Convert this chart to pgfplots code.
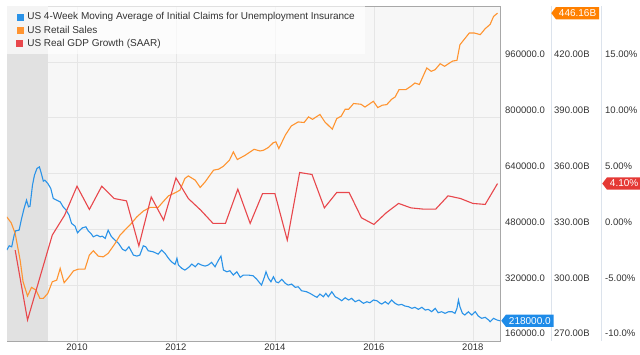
\documentclass[border=0pt]{standalone}
\usepackage{fontspec}
\setmainfont{Liberation Sans}
\usepackage{pgfplots}
\pgfplotsset{compat=1.18}
\usepackage{pgfplotstable}
\usetikzlibrary{shapes.symbols}

\definecolor{bgcol}{HTML}{F7F7F7}
\definecolor{gridcol}{HTML}{E6E6E6}
\definecolor{recol}{HTML}{E1E1E1}
\definecolor{bordercol}{HTML}{A8A8A8}
\definecolor{sepcol}{HTML}{DCE3EC}
\definecolor{textcol}{HTML}{333333}
\definecolor{cblue}{HTML}{2A93E8}
\definecolor{corange}{HTML}{FF9430}
\definecolor{cred}{HTML}{E8474C}
\definecolor{tagblue}{HTML}{1E8BE8}
\definecolor{tagorange}{HTML}{FF8000}
\definecolor{tagred}{HTML}{E53935}

\pgfplotstableread{
x y
2008.58 420500
2008.63 432800
2008.68 429900
2008.73 463400
2008.76 475700
2008.83 477700
2008.88 511200
2008.93 539800
2008.98 563600
2009.02 544400
2009.05 546400
2009.10 606500
2009.14 635100
2009.19 654300
2009.24 658900
2009.27 644600
2009.32 618000
2009.35 620800
2009.41 611400
2009.47 597100
2009.52 568500
2009.59 563600
2009.66 558700
2009.72 544400
2009.78 535000
2009.84 520600
2009.89 496900
2009.96 489200
2010.01 470000
2010.06 477700
2010.11 484300
2010.18 487200
2010.23 474900
2010.28 468300
2010.33 458500
2010.40 463400
2010.47 458500
2010.51 460500
2010.57 454000
2010.63 477700
2010.69 460500
2010.73 454000
2010.84 439600
2010.92 422500
2010.98 418500
2011.05 429900
2011.14 406200
2011.21 403300
2011.27 406200
2011.34 432800
2011.39 429900
2011.44 418500
2011.54 415600
2011.64 409000
2011.71 420500
2011.78 411000
2011.85 396700
2011.91 387000
2011.98 379500
2012.02 396700
2012.05 377500
2012.12 368100
2012.18 363200
2012.23 368100
2012.27 372700
2012.32 380400
2012.39 372700
2012.45 382400
2012.52 377500
2012.59 374700
2012.65 377500
2012.72 385300
2012.79 372700
2012.86 391800
2012.91 403300
2012.96 363200
2013.03 358400
2013.09 361200
2013.16 348900
2013.23 358400
2013.30 342300
2013.36 348900
2013.46 348900
2013.56 346900
2013.63 337500
2013.70 325200
2013.73 320300
2013.79 344000
2013.82 358400
2013.87 339500
2013.92 329700
2013.97 344000
2014.02 329700
2014.07 326900
2014.14 336600
2014.21 325200
2014.27 320300
2014.34 323200
2014.41 313700
2014.47 315400
2014.54 304000
2014.64 301100
2014.71 296500
2014.80 288800
2014.85 285100
2014.91 294500
2014.98 286800
2015.03 296500
2015.08 286800
2015.15 301100
2015.22 286800
2015.28 282200
2015.35 275400
2015.42 283900
2015.49 277400
2015.55 282200
2015.62 272500
2015.70 277400
2015.79 267900
2015.86 272500
2015.92 269600
2015.99 277400
2016.06 275400
2016.13 267900
2016.16 265900
2016.23 272500
2016.29 265900
2016.36 277400
2016.43 267900
2016.50 263000
2016.56 265000
2016.63 260200
2016.70 258200
2016.77 253600
2016.83 256500
2016.90 250700
2016.97 256500
2017.04 248700
2017.10 250700
2017.17 243900
2017.24 253600
2017.30 241000
2017.37 243900
2017.44 239300
2017.51 243900
2017.58 243900
2017.64 239300
2017.68 253600
2017.71 277400
2017.74 258200
2017.79 239300
2017.84 234400
2017.91 243900
2017.98 234400
2018.05 243900
2018.11 231600
2018.18 225000
2018.25 227800
2018.32 220100
2018.35 215200
2018.42 225000
2018.49 220100
2018.55 218000
}\claims

\pgfplotstableread{
x y
2008.58 336.7
2008.67 333.5
2008.75 327.8
2008.85 313.5
2008.91 301.8
2009.00 294.2
2009.08 298.8
2009.17 297.4
2009.25 292.9
2009.32 292.9
2009.41 295.6
2009.50 301.8
2009.59 302.7
2009.66 309.0
2009.74 301.3
2009.84 304.5
2009.93 307.7
2010.03 308.6
2010.16 308.6
2010.25 316.2
2010.33 318.5
2010.43 315.6
2010.53 315.2
2010.63 317.1
2010.77 322.4
2010.87 326.9
2011.00 330.5
2011.07 332.3
2011.21 336.7
2011.34 339.8
2011.48 341.8
2011.64 341.8
2011.74 344.8
2011.85 348.0
2011.98 349.6
2012.08 351.0
2012.18 357.3
2012.25 358.7
2012.39 356.4
2012.49 352.5
2012.59 355.5
2012.76 361.8
2012.86 362.3
2012.96 363.9
2013.08 367.1
2013.16 371.6
2013.24 367.5
2013.40 369.8
2013.58 373.0
2013.70 372.1
2013.77 372.5
2013.87 374.0
2013.97 376.6
2014.02 377.0
2014.08 373.4
2014.21 380.6
2014.33 385.5
2014.47 387.7
2014.59 387.4
2014.68 390.4
2014.76 389.1
2014.91 391.7
2015.01 387.7
2015.16 383.8
2015.25 389.5
2015.34 390.8
2015.42 394.5
2015.49 394.5
2015.59 397.6
2015.74 397.2
2015.82 395.7
2015.99 398.8
2016.08 395.4
2016.17 396.7
2016.26 397.0
2016.36 399.9
2016.43 401.1
2016.51 405.1
2016.65 405.1
2016.75 406.9
2016.83 408.6
2016.92 407.8
2017.07 416.7
2017.16 414.9
2017.24 415.8
2017.34 419.0
2017.43 417.6
2017.51 419.0
2017.59 420.4
2017.68 420.8
2017.74 429.2
2017.81 431.5
2017.93 435.5
2018.03 435.5
2018.15 434.6
2018.25 437.8
2018.35 440.1
2018.42 444.4
2018.50 446.16
}\retail

\pgfplotstableread{
x y
2008.75 -1.86
2009.00 -8.12
2009.25 -4.30
2009.50 -0.52
2009.75 1.27
2010.00 3.86
2010.25 1.78
2010.50 3.86
2010.75 2.76
2011.00 2.55
2011.25 -1.48
2011.50 2.90
2011.75 0.82
2012.00 4.60
2012.25 2.76
2012.50 1.72
2012.75 0.53
2013.00 0.53
2013.25 3.60
2013.50 0.53
2013.75 3.20
2014.00 3.20
2014.25 -0.97
2014.50 5.09
2014.75 4.91
2015.00 1.92
2015.25 3.30
2015.50 3.30
2015.75 1.03
2016.00 0.44
2016.25 1.48
2016.50 2.32
2016.75 1.92
2017.00 1.81
2017.25 1.81
2017.50 3.00
2017.75 2.76
2018.00 2.32
2018.25 2.23
2018.50 4.10
}\gdp

\tikzset{
  tag/.style={signal, signal to=west, signal pointer angle=105, text=white,
    font=\fontsize{10}{11}\selectfont, inner xsep=3pt, inner ysep=2.6pt, anchor=west},
}
\pgfplotsset{
  base/.style={
    width=493pt, height=335pt, scale only axis,
    at={(7pt,14pt)}, anchor=south west,
    xmin=2008.585, xmax=2018.55,
    clip mode=individual,
    major tick length=0pt,
    scaled y ticks=false, scaled x ticks=false,
    tick label style={font=\fontsize{9.5}{11}\selectfont, text=textcol},
    yticklabel pos=right,
  },
}

\begin{document}
\begin{tikzpicture}[font=\fontsize{10}{12}\selectfont]
\useasboundingbox (0pt,0pt) rectangle (640pt,355pt);
% Axis 1: initial claims
\begin{axis}[base,
  ymin=160000, ymax=1120000,
  axis background/.style={fill=bgcol},
  xtick={2010,2012,2014,2016,2018},
  xticklabels={2010,2012,2014,2016,2018},
  ytick={160000,320000,480000,640000,800000,960000,1120000},
  yticklabels={160000.0,320000.0,480000.0,640000.0,800000.0,960000.0,{}},
  xmajorgrids, ymajorgrids,
  major grid style={gridcol, line width=0.6pt},
  axis line style={bordercol, line width=0.8pt},
  yticklabel style={anchor=base west, inner sep=0pt, xshift=5pt, yshift=4pt},
  xticklabel style={anchor=north, inner sep=0pt, yshift=-3pt},
]
\fill[recol] (axis cs:2008.585,160000) rectangle (axis cs:2009.41,1120000);
\draw[sepcol, line width=0.8pt] (rel axis cs:1,0) ++(51pt,0pt) -- ++(0pt,335pt);
\draw[sepcol, line width=0.8pt] (rel axis cs:1,0) ++(101pt,0pt) -- ++(0pt,335pt);
\addplot[cblue, line width=1.1pt] table {\claims};
\node[tag, fill=tagblue, xshift=1pt] at (axis cs:2018.55,218000) {218000.0};
\end{axis}
% Axis 2: retail sales
\begin{axis}[base,
  ymin=270, ymax=450,
  axis line style={draw=none},
  xtick=\empty,
  ytick={270,300,330,360,390,420},
  yticklabels={270.00B,300.00B,330.00B,360.00B,390.00B,420.00B},
  yticklabel style={anchor=base west, inner sep=0pt, xshift=54pt, yshift=4pt},
]
\addplot[corange, line width=1.1pt] table {\retail};
\node[tag, fill=tagorange, xshift=51pt] at (axis cs:2018.55,446.16) {446.16B};
\end{axis}
% Axis 3: GDP growth
\begin{axis}[base,
  ymin=-10, ymax=20,
  axis line style={draw=none},
  xtick=\empty,
  ytick={-10,-5,0,5,10,15},
  yticklabels={-10.0\%,-5.00\%,0.00\%,5.00\%,10.00\%,15.00\%},
  yticklabel style={anchor=base west, inner sep=0pt, xshift=105pt, yshift=4pt},
  legend cell align=left,
  legend style={at={(0,1)}, anchor=north west, draw=none,
    fill=white, fill opacity=0.65, text opacity=1,
    inner xsep=9pt, inner ysep=5pt, row sep=1.5pt, column sep=2.5pt,
    nodes={inner sep=1.5pt},
    font=\fontsize{10}{12}\selectfont, text=textcol},
]
\addlegendimage{legend image code/.code={\fill[cblue, fill opacity=1] (0pt,-3pt) rectangle (6pt,3pt);}}
\addlegendentry{US 4-Week Moving Average of Initial Claims for Unemployment Insurance}
\addlegendimage{legend image code/.code={\fill[corange, fill opacity=1] (0pt,-3pt) rectangle (6pt,3pt);}}
\addlegendentry{US Retail Sales}
\addplot[cred, line width=1.1pt,
  legend image code/.code={\fill[cred, fill opacity=1] (0pt,-3pt) rectangle (6pt,3pt);}] table {\gdp};
\addlegendentry{US Real GDP Growth (SAAR)}
\node[tag, fill=tagred, xshift=102pt] at (axis cs:2018.55,4.1) {4.10\%};
\end{axis}
\end{tikzpicture}
\end{document}
